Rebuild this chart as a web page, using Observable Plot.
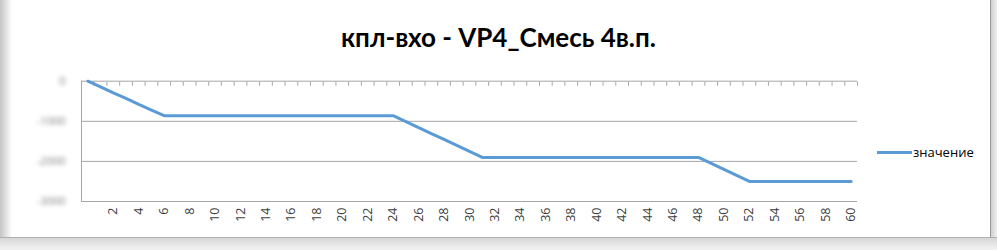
<!DOCTYPE html>
<html>
<head>
<meta charset="utf-8">
<script src="https://cdn.jsdelivr.net/npm/d3@7"></script>
<script src="https://cdn.jsdelivr.net/npm/@observablehq/plot@0.6"></script>
<style>
  html, body { margin: 0; padding: 0; background: #fff; }
  #wrap { position: relative; width: 997px; height: 250px; overflow: hidden; background: #fff; font-family: "Open Sans", sans-serif; }
  #shadeL { position: absolute; left: 0; top: 0; width: 12px; height: 250px; background: linear-gradient(to right, #c4c4c4, #ffffff); }
  #shadeR { position: absolute; left: 990px; top: 0; width: 7px; height: 250px; border-left: 1px solid #9a9a9a; background: linear-gradient(to right, #d0d0d0, #f4f4f4); }
  #shadeB { position: absolute; left: 0; top: 237px; width: 997px; height: 13px; border-top: 1px solid #b0b0b0; background: linear-gradient(to bottom, #d6d6d6, #f6f6f6); }
  #title { position: absolute; left: 0; top: 0; width: 997px; height: 60px; text-align: center; line-height: 74px; font-family: Lato, sans-serif; font-weight: bold; font-size: 26px; color: #000; }
  #chart { position: absolute; left: 0; top: 60px; }
  #legend { position: absolute; left: 877px; top: 143px; font-size: 13px; color: #000; display: flex; align-items: center; }
  #legend .sw { width: 35px; height: 3px; background: #5b9bd5; margin-right: 1px; }
  g[aria-label="y-axis tick label"] { filter: blur(2px); }
</style>
</head>
<body>
<div id="wrap">
  <div id="title"></div>
  <div id="chart"></div>
  <div id="legend"><div class="sw"></div><span id="legtext"></span></div>
  <div id="shadeL"></div>
  <div id="shadeR"></div>
  <div id="shadeB"></div>
</div>
<script>
const title = "кпл-вхо - VP4_Смесь 4в.п.";
const seriesName = "значение";
// categories 0..60 (first category label is blank)
const categories = d3.range(0, 61);
const values = [
  0, -140, -290, -430, -580, -720, -860, -860, -860, -860,
  -860, -860, -860, -860, -860, -860, -860, -860, -860, -860,
  -860, -860, -860, -860, -860, -1010, -1160, -1310, -1450, -1600,
  -1750, -1900, -1900, -1900, -1900, -1900, -1900, -1900, -1900, -1900,
  -1900, -1900, -1900, -1900, -1900, -1900, -1900, -1900, -1900, -2050,
  -2200, -2350, -2500, -2500, -2500, -2500, -2500, -2500, -2500, -2500,
  -2500
];
const yTicks = [0, -1000, -2000, -3000];
const xTickLabels = d3.range(2, 61, 2);

document.getElementById("title").textContent = title;
document.getElementById("legtext").textContent = seriesName;

const data = categories.map((c, i) => ({x: c, y: values[i]}));
const boundaries = d3.range(-0.5, 61, 1);

const chart = Plot.plot({
  width: 997,
  height: 190,
  marginTop: 20.7,
  marginBottom: 49,
  marginLeft: 81,
  marginRight: 140,
  style: {fontFamily: "Open Sans, sans-serif", background: "transparent"},
  x: {domain: [-0.5, 60.5]},
  y: {domain: [-3000, 0]},
  marks: [
    Plot.ruleY(yTicks, {stroke: "#a6a6a6", strokeWidth: 1}),
    Plot.ruleX([-0.5], {stroke: "#a6a6a6", strokeWidth: 1}),
    Plot.axisX({anchor: "top", ticks: boundaries, tickSize: -4, tickFormat: () => "", stroke: "#a6a6a6", strokeOpacity: 1, label: null}),
    Plot.axisX({anchor: "bottom", ticks: xTickLabels, tickSize: 0, tickPadding: 6, tickRotate: -90, tickFormat: d => String(d), fontSize: 12.5, fill: "#404040", label: null}),
    Plot.axisY({ticks: yTicks, tickSize: 0, tickPadding: 16, tickFormat: d => String(d), fontSize: 11, fill: "#808080", label: null}),
    Plot.line(data, {x: "x", y: "y", stroke: "#5b9bd5", strokeWidth: 3, strokeLinejoin: "round"})
  ]
});
document.getElementById("chart").appendChild(chart);
</script>
</body>
</html>
